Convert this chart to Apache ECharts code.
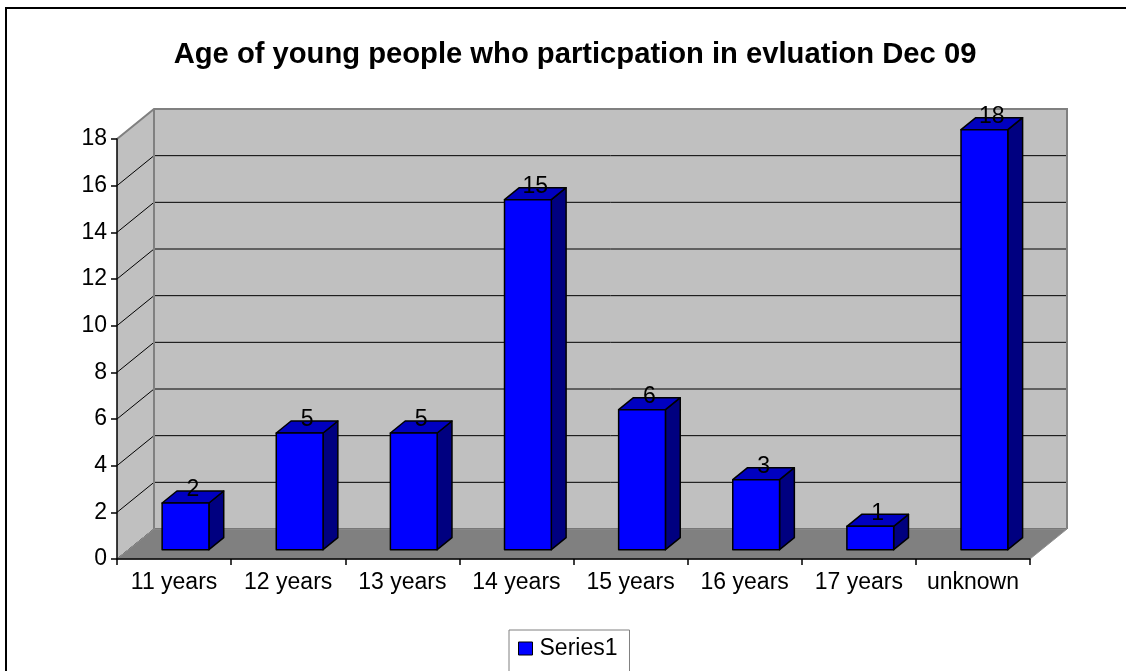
<!DOCTYPE html>
<html><head><meta charset="utf-8">
<script src="https://cdn.jsdelivr.net/npm/echarts@6/dist/echarts.min.js"></script>
<style>html,body{margin:0;padding:0;background:#fff}#c{width:1126px;height:671px}</style>
</head><body><div id="c"></div>
<script>
const titleText = 'Age of young people who particpation in evluation Dec 09';
const categories = ['11 years', '12 years', '13 years', '14 years', '15 years', '16 years', '17 years', 'unknown'];
const values = [2, 5, 5, 15, 6, 3, 1, 18];
const yTicks = [0, 2, 4, 6, 8, 10, 12, 14, 16, 18];
const seriesName = 'Series1';

const DX = 37, DY = -30;      // depth of the 3D box
const F1 = 0.31, F2 = 0.71;   // bar front/back position inside depth
const BAR_FRAC = 0.41;
const FONT = 'Liberation Sans, Arial, sans-serif';
const FS = 23;

function renderWalls(params, api) {
  const cs = params.coordSys;
  const x0 = cs.x, x1 = cs.x + cs.width;
  const yb = cs.y + cs.height, yt = cs.y;
  const ch = [];
  ch.push({type: 'polygon', shape: {points: [[x0, yb], [x0 + DX, yb + DY], [x0 + DX, yt + DY], [x0, yt]]},
    style: {fill: '#c0c0c0'}});
  ch.push({type: 'rect', shape: {x: x0 + DX, y: yt + DY, width: cs.width, height: cs.height},
    style: {fill: '#c0c0c0'}});
  yTicks.forEach(v => {
    if (v === yTicks[yTicks.length - 1]) return;
    const y = api.coord([0, v])[1];
    ch.push({type: 'polyline', shape: {points: [[x0, y], [x0 + DX, y + DY], [x1 + DX, y + DY]]},
      style: {stroke: '#000', lineWidth: 1, fill: null}});
  });
  ch.push({type: 'polyline', shape: {points: [[x0, yt], [x0 + DX, yt + DY], [x1 + DX, yt + DY], [x1 + DX, yb + DY]]},
    style: {stroke: '#808080', lineWidth: 2, fill: null}});
  ch.push({type: 'line', shape: {x1: x0 + DX, y1: yt + DY, x2: x0 + DX, y2: yb + DY},
    style: {stroke: '#808080', lineWidth: 2}});
  ch.push({type: 'polygon', shape: {points: [[x0, yb], [x1, yb], [x1 + DX, yb + DY], [x0 + DX, yb + DY]]},
    style: {fill: '#808080', stroke: '#909090', lineWidth: 1}});
  return {type: 'group', children: ch};
}

function renderBar(params, api) {
  const i = api.value(0), v = api.value(1);
  const c = api.coord([i, v]);
  const b = api.coord([i, 0]);
  const bw = api.size([1, 0])[0] * BAR_FRAC;
  const fx = c[0] + F1 * DX - bw / 2;
  const fy0 = b[1] + F1 * DY, fy1 = c[1] + F1 * DY;
  const ddx = (F2 - F1) * DX, ddy = (F2 - F1) * DY;
  const st = {stroke: '#000', lineWidth: 1.5, lineJoin: 'round'};
  return {type: 'group', children: [
    {type: 'polygon', shape: {points: [[fx + bw, fy1], [fx + bw + ddx, fy1 + ddy], [fx + bw + ddx, fy0 + ddy], [fx + bw, fy0]]},
      style: Object.assign({fill: '#000080'}, st)},
    {type: 'polygon', shape: {points: [[fx, fy1], [fx + bw, fy1], [fx + bw + ddx, fy1 + ddy], [fx + ddx, fy1 + ddy]]},
      style: Object.assign({fill: '#0000c0'}, st)},
    {type: 'rect', shape: {x: fx, y: fy1, width: bw, height: fy0 - fy1},
      style: Object.assign({fill: '#0000ff'}, st)},
    {type: 'text', x: fx + bw / 2 + ddx / 2, y: fy1 + ddy - 1,
      style: {text: String(v), fill: '#000', font: FS + 'px ' + FONT, align: 'center', verticalAlign: 'middle'}}
  ]};
}

const chart = echarts.init(document.getElementById('c'), null, {renderer: 'canvas'});
chart.setOption({
  animation: false,
  backgroundColor: '#fff',
  title: {text: titleText, left: 570, top: 35, textAlign: 'center',
    textStyle: {fontSize: 29.2, fontWeight: 'bold', color: '#000', fontFamily: FONT}},
  legend: {
    left: 509, top: 630, orient: 'horizontal',
    padding: [7, 12, 30, 9], borderColor: '#808080', borderWidth: 1,
    itemWidth: 14, itemHeight: 13, itemGap: 5,
    textStyle: {fontSize: FS, color: '#000', fontFamily: FONT, padding: [0, 0, 0, 2]},
    data: [{name: seriesName, icon: 'rect', itemStyle: {color: '#0000ff', borderColor: '#000', borderWidth: 1}}]
  },
  graphic: [{type: 'rect', shape: {x: 6, y: 8, width: 1200, height: 800},
    style: {fill: null, stroke: '#000', lineWidth: 2}, z: 100}],
  grid: {left: 117, right: 96, top: 139, bottom: 112, containLabel: false},
  xAxis: {
    type: 'category', data: categories, z: 10,
    axisLine: {lineStyle: {color: '#000', width: 1.5}},
    axisTick: {show: true, length: 6, lineStyle: {color: '#000', width: 1.5}},
    axisLabel: {interval: 0, fontSize: FS, color: '#000', margin: 12, fontFamily: FONT},
    splitLine: {show: false}
  },
  yAxis: {
    type: 'value', min: 0, max: 18, interval: 2, z: 10,
    axisLine: {show: true, lineStyle: {color: '#000', width: 1.5}},
    axisTick: {show: true, length: 6, lineStyle: {color: '#000', width: 1.5}},
    axisLabel: {fontSize: FS, color: '#000', margin: 10, fontFamily: FONT},
    splitLine: {show: false}
  },
  series: [
    {type: 'custom', name: 'walls', renderItem: renderWalls, data: [[0, 0]], z: 1, silent: true,
      encode: {x: 0, y: 1}, clip: false},
    {type: 'custom', name: seriesName, renderItem: renderBar, z: 5, clip: false,
      itemStyle: {color: '#0000ff'},
      data: values.map((v, i) => [i, v]), encode: {x: 0, y: 1}}
  ]
});
</script></body></html>
